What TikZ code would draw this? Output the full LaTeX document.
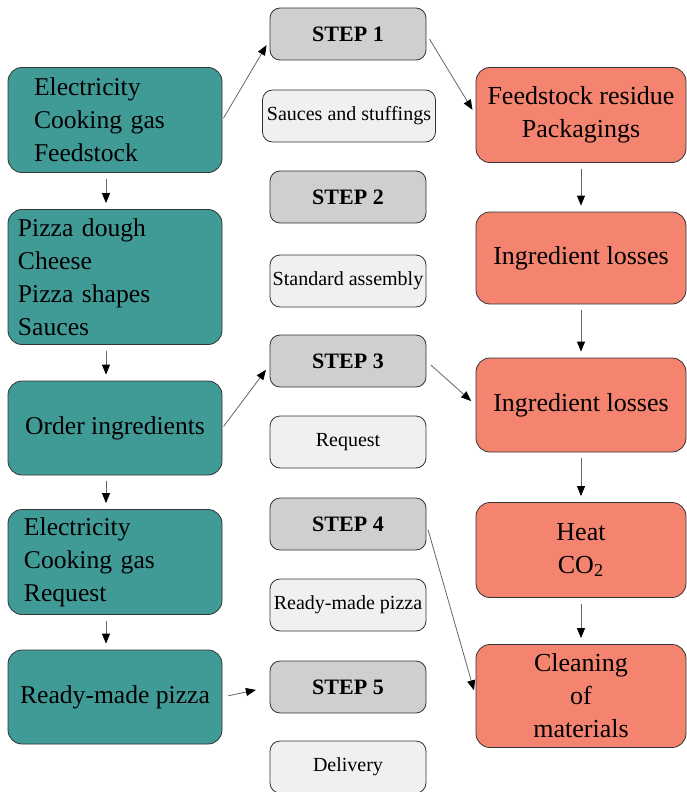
\documentclass[tikz,border=0pt]{standalone}
\usepackage{fontspec}
\setmainfont{Liberation Serif}
\usetikzlibrary{arrows.meta}

\definecolor{tealbox}{RGB}{64,155,150}
\definecolor{salmonbox}{RGB}{244,132,112}
\definecolor{stepgray}{RGB}{208,206,207}
\definecolor{lightgray}{RGB}{240,240,240}

\begin{document}
\begin{tikzpicture}[x=0.5pt,y=-0.5pt,
    inbox/.style={draw=black!80,fill=tealbox,rounded corners=7pt,minimum width=107pt,minimum height=47pt,font=\fontsize{12.8}{16.5}\selectfont},
    outbox/.style={draw=black!80,fill=salmonbox,rounded corners=7pt,minimum width=105pt,minimum height=47pt,align=center,font=\fontsize{13}{16.5}\selectfont},
    stepbox/.style={draw=black!80,fill=stepgray,rounded corners=5pt,minimum width=78pt,minimum height=26pt,font=\fontsize{11}{13}\selectfont\bfseries},
    itembox/.style={draw=black!80,fill=lightgray,rounded corners=5pt,minimum width=78pt,minimum height=26pt,inner xsep=0.5pt,font=\fontsize{10}{12}\selectfont},
    flow/.style={draw=black!60,line width=0.4pt,-{Triangle[length=5pt,width=4pt,color=black]},shorten >=3pt,shorten <=3pt}]
    \useasboundingbox (0,0) rectangle (686,792);
    % inputs
    \node [inbox,minimum height=52.5pt,text width=81pt,inner xsep=13pt,align=left] (t1) at (115,120) {Electricity\\Cooking gas\\Feedstock};
    \node [inbox,minimum height=67.5pt,text width=97pt,inner xsep=5pt,align=left] (t2) at (115,277) {Pizza dough\\Cheese\\Pizza shapes\\Sauces};
    \node [inbox] (t3) at (115,428) {Order ingredients};
    \node [inbox,minimum height=52.5pt,text width=91pt,inner xsep=8pt,align=left] (t4) at (115,562) {Electricity\\Cooking gas\\Request};
    \node [inbox] (t5) at (115,697) {Ready-made pizza};
    % steps
    \node [stepbox] (s1) at (348,34) {STEP 1};
    \node [itembox,minimum width=86.5pt] (p1) at (349,116) {Sauces and stuffings};
    \node [stepbox] (s2) at (348,197) {STEP 2};
    \node [itembox] (p2) at (348,281) {Standard assembly};
    \node [stepbox] (s3) at (348,361) {STEP 3};
    \node [itembox] (p3) at (348,442) {Request};
    \node [stepbox] (s4) at (348,524) {STEP 4};
    \node [itembox] (p4) at (348,605) {Ready-made pizza};
    \node [stepbox] (s5) at (348,687) {STEP 5};
    \node [itembox] (p5) at (348,767) {Delivery};
    % outputs
    \node [outbox,minimum height=47.5pt] (r1) at (581,115) {Feedstock residue\\Packagings};
    \node [outbox,minimum height=46pt] (r2) at (581,258) {Ingredient losses};
    \node [outbox] (r3) at (581,405) {Ingredient losses};
    \node [outbox,minimum height=47.5pt] (r4) at (581,550) {Heat\\CO\textsubscript{2}};
    \node [outbox,minimum height=51.5pt] (r5) at (581,696) {Cleaning\\of\\materials};
    % arrows
    \draw [flow] ([xshift=-4.5pt]t1.south) -- ([xshift=-4.5pt]t2.north);
    \draw [flow] ([xshift=-4.5pt]t2.south) -- ([xshift=-4.5pt]t3.north);
    \draw [flow] ([xshift=-4.5pt]t3.south) -- ([xshift=-4.5pt]t4.north);
    \draw [flow] ([xshift=-4.5pt]t4.south) -- ([xshift=-4.5pt]t5.north);
    \draw [flow] (r1) -- (r2);
    \draw [flow] (r2) -- (r3);
    \draw [flow] (r3) -- (r4);
    \draw [flow] (r4) -- (r5);
    \draw [flow,shorten <=1pt] (t1.east) -- ([yshift=-3pt]s1.west);
    \draw [flow] (s1.east) -- (r1.west);
    \draw [flow,shorten <=1pt] (t3.east) -- ([yshift=-2pt]s3.west);
    \draw [flow] (s3.east) -- (r3.west);
    \draw [flow] (s4.east) -- (r5.west);
    \draw [flow,shorten >=7pt] (t5.east) -- (s5.west);
\end{tikzpicture}
\end{document}
